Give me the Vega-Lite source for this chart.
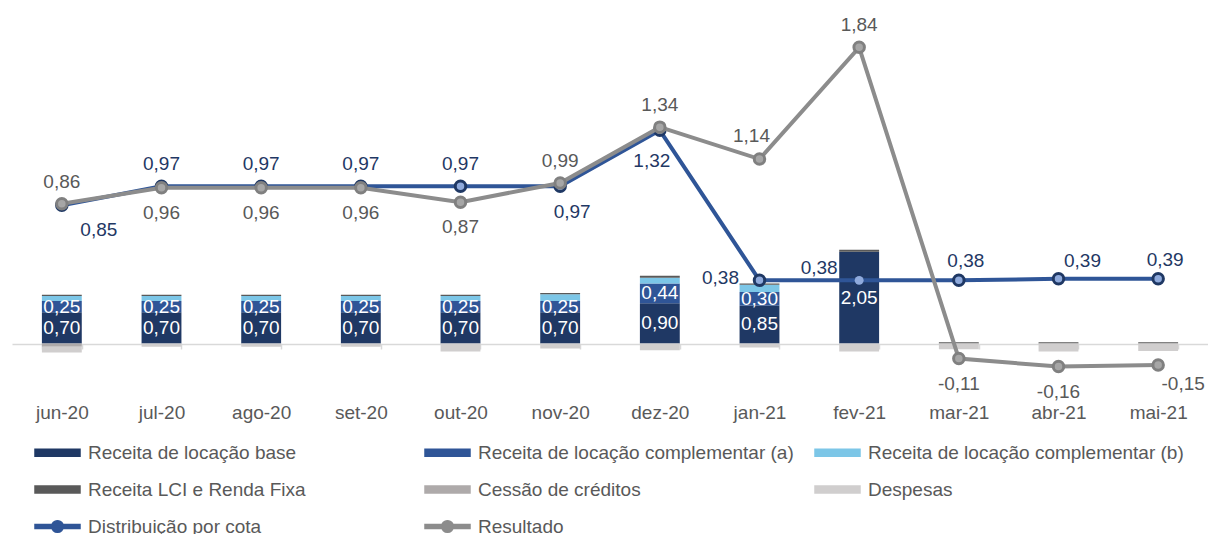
{
  "$schema": "https://vega.github.io/schema/vega-lite/v6.json",
  "width": 1196,
  "height": 344,
  "padding": {"left": 12, "top": 0, "right": 0, "bottom": 0},
  "background": "white",
  "config": {
    "view": {"stroke": null},
    "locale": {"number": {"decimal": ",", "thousands": ".", "grouping": [3], "currency": ["R$", ""], "minus": "-"}},
    "text": {"font": "Liberation Sans", "fontSize": 19},
    "legend": {
      "orient": "none", "legendX": 22, "legendY": 429, "direction": "horizontal",
      "columns": 3, "gridAlign": "all", "columnPadding": 18, "rowPadding": 3,
      "symbolSize": 2025, "labelFont": "Liberation Sans", "labelFontSize": 19,
      "labelColor": "#595959", "labelOffset": 7, "labelLimit": 0, "title": null
    }
  },
  "datasets": {
    "bars": [
      {"m": "jun-20", "cat": "Receita de locação base", "v": 0.70},
      {"m": "jun-20", "cat": "Receita de locação complementar (a)", "v": 0.25},
      {"m": "jun-20", "cat": "Receita de locação complementar (b)", "v": 0.11},
      {"m": "jun-20", "cat": "Receita LCI e Renda Fixa", "v": 0.03},
      {"m": "jun-20", "cat": "Cessão de créditos", "v": -0.07},
      {"m": "jun-20", "cat": "Despesas", "v": -0.13},
      {"m": "jul-20", "cat": "Receita de locação base", "v": 0.70},
      {"m": "jul-20", "cat": "Receita de locação complementar (a)", "v": 0.25},
      {"m": "jul-20", "cat": "Receita de locação complementar (b)", "v": 0.11},
      {"m": "jul-20", "cat": "Receita LCI e Renda Fixa", "v": 0.03},
      {"m": "jul-20", "cat": "Despesas", "v": -0.07},
      {"m": "ago-20", "cat": "Receita de locação base", "v": 0.70},
      {"m": "ago-20", "cat": "Receita de locação complementar (a)", "v": 0.25},
      {"m": "ago-20", "cat": "Receita de locação complementar (b)", "v": 0.11},
      {"m": "ago-20", "cat": "Receita LCI e Renda Fixa", "v": 0.03},
      {"m": "ago-20", "cat": "Despesas", "v": -0.07},
      {"m": "set-20", "cat": "Receita de locação base", "v": 0.70},
      {"m": "set-20", "cat": "Receita de locação complementar (a)", "v": 0.25},
      {"m": "set-20", "cat": "Receita de locação complementar (b)", "v": 0.11},
      {"m": "set-20", "cat": "Receita LCI e Renda Fixa", "v": 0.03},
      {"m": "set-20", "cat": "Despesas", "v": -0.07},
      {"m": "out-20", "cat": "Receita de locação base", "v": 0.70},
      {"m": "out-20", "cat": "Receita de locação complementar (a)", "v": 0.25},
      {"m": "out-20", "cat": "Receita de locação complementar (b)", "v": 0.11},
      {"m": "out-20", "cat": "Receita LCI e Renda Fixa", "v": 0.03},
      {"m": "out-20", "cat": "Despesas", "v": -0.18},
      {"m": "nov-20", "cat": "Receita de locação base", "v": 0.70},
      {"m": "nov-20", "cat": "Receita de locação complementar (a)", "v": 0.25},
      {"m": "nov-20", "cat": "Receita de locação complementar (b)", "v": 0.15},
      {"m": "nov-20", "cat": "Receita LCI e Renda Fixa", "v": 0.03},
      {"m": "nov-20", "cat": "Despesas", "v": -0.11},
      {"m": "dez-20", "cat": "Receita de locação base", "v": 0.90},
      {"m": "dez-20", "cat": "Receita de locação complementar (a)", "v": 0.44},
      {"m": "dez-20", "cat": "Receita de locação complementar (b)", "v": 0.13},
      {"m": "dez-20", "cat": "Receita LCI e Renda Fixa", "v": 0.04},
      {"m": "dez-20", "cat": "Despesas", "v": -0.15},
      {"m": "jan-21", "cat": "Receita de locação base", "v": 0.85},
      {"m": "jan-21", "cat": "Receita de locação complementar (a)", "v": 0.30},
      {"m": "jan-21", "cat": "Receita de locação complementar (b)", "v": 0.16},
      {"m": "jan-21", "cat": "Receita LCI e Renda Fixa", "v": 0.03},
      {"m": "jan-21", "cat": "Despesas", "v": -0.09},
      {"m": "fev-21", "cat": "Receita de locação base", "v": 2.05},
      {"m": "fev-21", "cat": "Receita LCI e Renda Fixa", "v": 0.04},
      {"m": "fev-21", "cat": "Despesas", "v": -0.18},
      {"m": "mar-21", "cat": "Receita LCI e Renda Fixa", "v": 0.03},
      {"m": "mar-21", "cat": "Despesas", "v": -0.13},
      {"m": "abr-21", "cat": "Receita LCI e Renda Fixa", "v": 0.03},
      {"m": "abr-21", "cat": "Despesas", "v": -0.18},
      {"m": "mai-21", "cat": "Receita LCI e Renda Fixa", "v": 0.03},
      {"m": "mai-21", "cat": "Despesas", "v": -0.17}
    ],
    "lines": [
      {"m": "jun-20", "s": "Distribuição por cota", "v": 0.85},
      {"m": "jul-20", "s": "Distribuição por cota", "v": 0.97},
      {"m": "ago-20", "s": "Distribuição por cota", "v": 0.97},
      {"m": "set-20", "s": "Distribuição por cota", "v": 0.97},
      {"m": "out-20", "s": "Distribuição por cota", "v": 0.97},
      {"m": "nov-20", "s": "Distribuição por cota", "v": 0.97},
      {"m": "dez-20", "s": "Distribuição por cota", "v": 1.32},
      {"m": "jan-21", "s": "Distribuição por cota", "v": 0.38},
      {"m": "fev-21", "s": "Distribuição por cota", "v": 0.38},
      {"m": "mar-21", "s": "Distribuição por cota", "v": 0.38},
      {"m": "abr-21", "s": "Distribuição por cota", "v": 0.39},
      {"m": "mai-21", "s": "Distribuição por cota", "v": 0.39},
      {"m": "jun-20", "s": "Resultado", "v": 0.86},
      {"m": "jul-20", "s": "Resultado", "v": 0.96},
      {"m": "ago-20", "s": "Resultado", "v": 0.96},
      {"m": "set-20", "s": "Resultado", "v": 0.96},
      {"m": "out-20", "s": "Resultado", "v": 0.87},
      {"m": "nov-20", "s": "Resultado", "v": 0.99},
      {"m": "dez-20", "s": "Resultado", "v": 1.34},
      {"m": "jan-21", "s": "Resultado", "v": 1.14},
      {"m": "fev-21", "s": "Resultado", "v": 1.84},
      {"m": "mar-21", "s": "Resultado", "v": -0.11},
      {"m": "abr-21", "s": "Resultado", "v": -0.16},
      {"m": "mai-21", "s": "Resultado", "v": -0.15}
    ]
  },
  "encoding": {
    "x": {
      "field": "m", "type": "nominal", "sort": null,
      "scale": {"domain": ["jun-20", "jul-20", "ago-20", "set-20", "out-20", "nov-20", "dez-20", "jan-21", "fev-21", "mar-21", "abr-21", "mai-21"], "paddingInner": 0.6, "paddingOuter": 0.3},
      "axis": {
        "title": null, "labelAngle": 0, "domainColor": "#D9D9D9", "domainWidth": 1.5,
        "tickColor": "#D9D9D9", "tickWidth": 1.5, "tickSize": 5, "tickBand": "extent",
        "labelFont": "Liberation Sans", "labelFontSize": 19, "labelColor": "#595959", "labelPadding": 54
      }
    }
  },
  "layer": [
    {
      "data": {"name": "bars"},
      "transform": [
        {"calculate": "indexof(['Receita de locação base','Receita de locação complementar (a)','Receita de locação complementar (b)','Receita LCI e Renda Fixa','Cessão de créditos','Despesas'], datum.cat)", "as": "ord"}
      ],
      "layer": [
        {
          "mark": {"type": "bar"},
          "encoding": {
            "y": {"field": "v", "type": "quantitative", "stack": "zero", "scale": {"domain": [-0.011, 7.667], "nice": false, "zero": false}, "axis": null},
            "order": {"field": "ord", "type": "quantitative"},
            "color": {
              "field": "cat", "type": "nominal",
              "scale": {
                "domain": ["Receita de locação base", "Receita de locação complementar (a)", "Receita de locação complementar (b)", "Receita LCI e Renda Fixa", "Cessão de créditos", "Despesas", "Distribuição por cota", "Resultado"],
                "range": ["#1F3864", "#2F5597", "#7CC6E7", "#595959", "#AEAAAA", "#D0CECE", "#2F5597", "#8C8C8C"]
              },
              "legend": {
                "encode": {
                  "symbols": {
                    "update": {
                      "shape": {"signal": "(datum.value == 'Distribuição por cota' || datum.value == 'Resultado') ? 'M-1,-0.09H1V0.09H-1Z M0.26,0A0.26,0.26 0 1,1 -0.26,0A0.26,0.26 0 1,1 0.26,0Z' : 'M-1,-0.16H1V0.16H-1Z'"},
                      "fill": {"signal": "scale('color', datum.value)"},
                      "stroke": {"value": "transparent"},
                      "opacity": {"value": 1},
                      "fillOpacity": {"value": 1}
                    }
                  }
                }
              }
            }
          }
        },
        {
          "transform": [
            {"stack": "v", "groupby": ["m"], "sort": [{"field": "ord", "order": "ascending"}], "as": ["v0", "v1"]},
            {"calculate": "(datum.v0 + datum.v1) / 2", "as": "mid"},
            {"filter": "datum.ord <= 1 && datum.v > 0"}
          ],
          "mark": {"type": "text", "fill": "white", "baseline": "middle", "align": "center"},
          "encoding": {
            "y": {"field": "mid", "type": "quantitative"},
            "text": {"field": "v", "type": "quantitative", "format": ".2f"}
          }
        }
      ]
    },
    {
      "data": {"name": "lines"},
      "layer": [
        {
          "transform": [{"filter": "datum.s == 'Distribuição por cota'"}],
          "mark": {"type": "line", "strokeWidth": 4},
          "encoding": {
            "y": {"field": "v", "type": "quantitative", "scale": {"domain": [-0.0188, 2.1366], "nice": false, "zero": false}, "axis": null},
            "color": {"field": "s", "type": "nominal"}
          }
        },
        {
          "transform": [{"filter": "datum.s == 'Distribuição por cota' && datum.m != 'fev-21'"}],
          "mark": {"type": "point", "filled": true, "fill": "#8FAADC", "stroke": "#1F3864", "strokeWidth": 3, "size": 110, "opacity": 1},
          "encoding": {"y": {"field": "v", "type": "quantitative"}}
        },
        {
          "transform": [{"filter": "datum.s == 'Distribuição por cota' && datum.m == 'fev-21'"}],
          "mark": {"type": "point", "filled": true, "fill": "#8FAADC", "strokeWidth": 0, "size": 80, "opacity": 1},
          "encoding": {"y": {"field": "v", "type": "quantitative"}}
        },
        {
          "transform": [{"filter": "datum.s == 'Resultado'"}],
          "mark": {"type": "line", "strokeWidth": 4},
          "encoding": {
            "y": {"field": "v", "type": "quantitative"},
            "color": {"field": "s", "type": "nominal"}
          }
        },
        {
          "transform": [{"filter": "datum.s == 'Resultado'"}],
          "mark": {"type": "point", "filled": true, "fill": "#A6A6A6", "stroke": "#808080", "strokeWidth": 3, "size": 110, "opacity": 1},
          "encoding": {"y": {"field": "v", "type": "quantitative"}}
        },
        {
          "transform": [{"filter": "datum.s == 'Distribuição por cota' && indexof(['jul-20','ago-20','set-20','out-20'], datum.m) >= 0"}],
          "mark": {"type": "text", "dy": -22, "fill": "#1F3864", "baseline": "middle"},
          "encoding": {"y": {"field": "v", "type": "quantitative"}, "text": {"field": "v", "type": "quantitative", "format": ".2f"}}
        },
        {
          "transform": [{"filter": "datum.s == 'Distribuição por cota' && indexof(['mar-21','mai-21'], datum.m) >= 0"}],
          "mark": {"type": "text", "dx": 7, "dy": -19, "fill": "#1F3864", "baseline": "middle"},
          "encoding": {"y": {"field": "v", "type": "quantitative"}, "text": {"field": "v", "type": "quantitative", "format": ".2f"}}
        },
        {
          "transform": [{"filter": "datum.s == 'Distribuição por cota' && datum.m == 'abr-21'"}],
          "mark": {"type": "text", "dx": 24, "dy": -18, "fill": "#1F3864", "baseline": "middle"},
          "encoding": {"y": {"field": "v", "type": "quantitative"}, "text": {"field": "v", "type": "quantitative", "format": ".2f"}}
        },
        {
          "transform": [{"filter": "datum.s == 'Distribuição por cota' && datum.m == 'jun-20'"}],
          "mark": {"type": "text", "dx": 37, "dy": 25, "fill": "#1F3864", "baseline": "middle"},
          "encoding": {"y": {"field": "v", "type": "quantitative"}, "text": {"field": "v", "type": "quantitative", "format": ".2f"}}
        },
        {
          "transform": [{"filter": "datum.s == 'Distribuição por cota' && datum.m == 'nov-20'"}],
          "mark": {"type": "text", "dx": 12, "dy": 26, "fill": "#1F3864", "baseline": "middle"},
          "encoding": {"y": {"field": "v", "type": "quantitative"}, "text": {"field": "v", "type": "quantitative", "format": ".2f"}}
        },
        {
          "transform": [{"filter": "datum.s == 'Distribuição por cota' && datum.m == 'dez-20'"}],
          "mark": {"type": "text", "dx": -8, "dy": 31, "fill": "#1F3864", "baseline": "middle"},
          "encoding": {"y": {"field": "v", "type": "quantitative"}, "text": {"field": "v", "type": "quantitative", "format": ".2f"}}
        },
        {
          "transform": [{"filter": "datum.s == 'Distribuição por cota' && datum.m == 'jan-21'"}],
          "mark": {"type": "text", "dx": -39, "dy": -2, "fill": "#1F3864", "baseline": "middle"},
          "encoding": {"y": {"field": "v", "type": "quantitative"}, "text": {"field": "v", "type": "quantitative", "format": ".2f"}}
        },
        {
          "transform": [{"filter": "datum.s == 'Distribuição por cota' && datum.m == 'fev-21'"}],
          "mark": {"type": "text", "dx": -40, "dy": -12, "fill": "#1F3864", "baseline": "middle"},
          "encoding": {"y": {"field": "v", "type": "quantitative"}, "text": {"field": "v", "type": "quantitative", "format": ".2f"}}
        },
        {
          "transform": [{"filter": "datum.s == 'Resultado' && indexof(['jun-20','nov-20','dez-20','fev-21'], datum.m) >= 0"}],
          "mark": {"type": "text", "dy": -22, "fill": "#595959", "baseline": "middle"},
          "encoding": {"y": {"field": "v", "type": "quantitative"}, "text": {"field": "v", "type": "quantitative", "format": ".2f"}}
        },
        {
          "transform": [{"filter": "datum.s == 'Resultado' && datum.m == 'jan-21'"}],
          "mark": {"type": "text", "dx": -8, "dy": -23, "fill": "#595959", "baseline": "middle"},
          "encoding": {"y": {"field": "v", "type": "quantitative"}, "text": {"field": "v", "type": "quantitative", "format": ".2f"}}
        },
        {
          "transform": [{"filter": "datum.s == 'Resultado' && indexof(['jul-20','ago-20','set-20','out-20','mar-21','abr-21'], datum.m) >= 0"}],
          "mark": {"type": "text", "dy": 25, "fill": "#595959", "baseline": "middle"},
          "encoding": {"y": {"field": "v", "type": "quantitative"}, "text": {"field": "v", "type": "quantitative", "format": ".2f"}}
        },
        {
          "transform": [{"filter": "datum.s == 'Resultado' && datum.m == 'mai-21'"}],
          "mark": {"type": "text", "dx": 25, "dy": 19, "fill": "#595959", "baseline": "middle"},
          "encoding": {"y": {"field": "v", "type": "quantitative"}, "text": {"field": "v", "type": "quantitative", "format": ".2f"}}
        }
      ]
    }
  ],
  "resolve": {"scale": {"y": "independent"}}
}
